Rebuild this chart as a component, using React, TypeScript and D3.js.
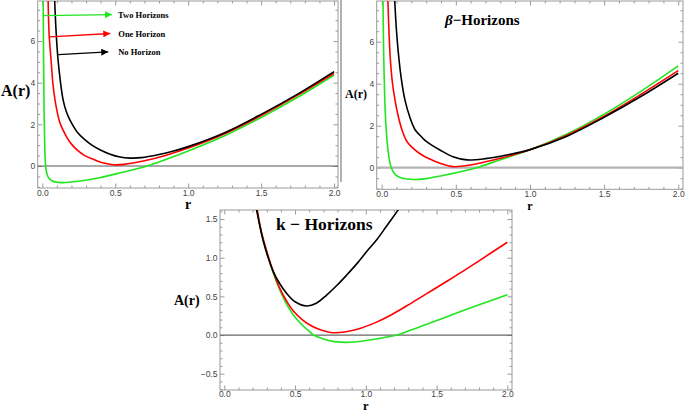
import { useEffect, useRef } from "react";
import {
  select,
  scaleLinear,
  line,
  curveCatmullRom,
  axisBottom,
  axisLeft,
  axisTop,
  axisRight,
  range,
  format,
} from "d3";

type Pt = [number, number];

// tick labels
const rTicks = [0, 0.5, 1, 1.5, 2];
const aTicksWide = [0, 2, 4, 6];
const aTicksK = [-0.5, 0, 0.5, 1, 1.5];

// colours of the three cases
const seriesColors = ["#1fe61f", "#ff0000", "#000000"];
const legendLabels = ["Two Horizons", "One Horizon", "No Horizon"];

// top left panel (r, A(r))
const p1Green: Pt[] = [
  [0.006, 7.92], [0.009, 5.0], [0.012, 2.8], [0.016, 1.2], [0.02, 0.3],
  [0.026, -0.18], [0.036, -0.47], [0.05, -0.63], [0.08, -0.75], [0.14, -0.8],
  [0.25, -0.73], [0.4, -0.55], [0.55, -0.3], [0.72, 0], [0.85, 0.32],
  [1.0, 0.72], [1.25, 1.45], [1.5, 2.33], [1.75, 3.3], [2.0, 4.37],
];
const p1Red: Pt[] = [
  [0.04, 7.92], [0.047, 6.3], [0.06, 5.1], [0.072, 4.0], [0.087, 3.17],
  [0.105, 2.5], [0.122, 2.05], [0.142, 1.73], [0.17, 1.35], [0.2, 1.05],
  [0.238, 0.77], [0.29, 0.5], [0.361, 0.29], [0.42, 0.14], [0.485, 0.06],
  [0.56, 0.08], [0.7, 0.25], [0.85, 0.52], [1.0, 0.86], [1.25, 1.55],
  [1.5, 2.42], [1.75, 3.4], [2.0, 4.45],
];
const p1Black: Pt[] = [
  [0.085, 7.92], [0.095, 6.4], [0.108, 5.1], [0.125, 4.0], [0.142, 3.2],
  [0.165, 2.6], [0.19, 2.2], [0.24, 1.62], [0.293, 1.25], [0.34, 1.0],
  [0.395, 0.78], [0.46, 0.58], [0.533, 0.43], [0.6, 0.38], [0.68, 0.4],
  [0.8, 0.55], [0.9, 0.72], [1.0, 0.93], [1.25, 1.6], [1.5, 2.48],
  [1.75, 3.45], [2.0, 4.53],
];

// β panel
const p2Green: Pt[] = [
  [0.009, 7.94], [0.012, 6.0], [0.016, 4.5], [0.021, 3.2], [0.028, 2.1],
  [0.036, 1.3], [0.045, 0.7], [0.055, 0.25], [0.065, 0], [0.08, -0.22],
  [0.1, -0.38], [0.14, -0.5], [0.21, -0.56], [0.3, -0.52], [0.45, -0.32],
  [0.64, 0], [0.8, 0.38], [1.0, 0.85], [1.25, 1.6], [1.5, 2.55],
  [1.75, 3.65], [2.0, 4.85],
];
const p2Red: Pt[] = [
  [0.042, 7.94], [0.05, 6.3], [0.06, 5.0], [0.074, 3.95], [0.09, 3.22],
  [0.11, 2.5], [0.137, 1.8], [0.17, 1.25], [0.224, 0.85], [0.28, 0.57],
  [0.339, 0.37], [0.41, 0.17], [0.48, 0.05], [0.6, 0.13], [0.8, 0.45],
  [1.0, 0.85], [1.25, 1.55], [1.5, 2.45], [1.75, 3.5], [2.0, 4.62],
];
const p2Black: Pt[] = [
  [0.088, 7.94], [0.1, 6.5], [0.117, 5.13], [0.135, 4.1], [0.157, 3.22],
  [0.19, 2.4], [0.224, 1.82], [0.26, 1.53], [0.292, 1.3], [0.34, 1.06],
  [0.393, 0.84], [0.48, 0.52], [0.575, 0.37], [0.7, 0.43], [0.843, 0.6],
  [1.0, 0.86], [1.25, 1.5], [1.5, 2.4], [1.75, 3.4], [2.0, 4.5],
];

// k panel
const p3Green: Pt[] = [
  [0.232, 1.62], [0.26, 1.35], [0.3, 1.08], [0.35, 0.78], [0.393, 0.58],
  [0.44, 0.4], [0.488, 0.26], [0.55, 0.13], [0.605, 0.04], [0.63, 0],
  [0.7, -0.05], [0.78, -0.085], [0.865, -0.095], [0.97, -0.08], [1.077, -0.05],
  [1.15, -0.025], [1.218, 0], [1.32, 0.065], [1.43, 0.14], [1.55, 0.22],
  [1.665, 0.3], [1.8, 0.39], [2.0, 0.52],
];
const p3Red: Pt[] = [
  [0.232, 1.62], [0.26, 1.35], [0.3, 1.08], [0.35, 0.8], [0.393, 0.6],
  [0.44, 0.44], [0.488, 0.31], [0.55, 0.2], [0.605, 0.13], [0.66, 0.08],
  [0.723, 0.045], [0.77, 0.03], [0.85, 0.04], [0.959, 0.085], [1.08, 0.17],
  [1.194, 0.275], [1.31, 0.4], [1.43, 0.535], [1.55, 0.67], [1.665, 0.8],
  [1.8, 0.96], [2.0, 1.2],
];
const p3Black: Pt[] = [
  [0.228, 1.62], [0.25, 1.42], [0.276, 1.21], [0.31, 1.0], [0.346, 0.82],
  [0.39, 0.67], [0.44, 0.54], [0.5, 0.43], [0.582, 0.375], [0.65, 0.41],
  [0.723, 0.517], [0.8, 0.65], [0.865, 0.776], [0.94, 0.93], [1.006, 1.08],
  [1.08, 1.24], [1.147, 1.41], [1.21, 1.57], [1.28, 1.75],
];

// arrows of the legend, from a point on the curve to the tip (r, A)
const legendArrows: [Pt, Pt][] = [
  [[0.007, 7.22], [0.478, 7.27]],
  [[0.052, 6.2], [0.466, 6.36]],
  [[0.11, 5.35], [0.452, 5.48]],
];

const FRAME = "#9a9a9a";
const SERIF = "'Liberation Serif', 'Times New Roman', serif";
const SANS = "'Liberation Sans', Arial, sans-serif";

const panels = [
  {
    id: "p1",
    left: 37.7, right: 338, top: 1, bottom: 188,
    xDom: [-0.0315, 2.027], yDom: [-1.056, 7.92],
    yTicks: aTicksWide, yStep: 0.5, yFmt: format("d"), pad: 1.5,
    series: [p1Green, p1Red, p1Black],
    zero: { color: "#555", width: 1 },
  },
  {
    id: "p2",
    left: 376.7, right: 683, top: 1, bottom: 189.3,
    xDom: [-0.0337, 2.032], yDom: [-1.03, 7.94],
    yTicks: aTicksWide, yStep: 0.5, yFmt: format("d"), pad: 1.5,
    series: [p2Green, p2Red, p2Black],
    zero: { color: "#b3b3b3", width: 2.2 },
  },
  {
    id: "p3",
    left: 220, right: 512, top: 210, bottom: 390,
    xDom: [-0.0304, 2.033], yDom: [-0.711, 1.617],
    yTicks: aTicksK, yStep: 0.1, yFmt: format(".1f"), pad: 1,
    series: [p3Green, p3Red, p3Black],
    zero: { color: "#666", width: 1.2 },
  },
];

const isMajor = (v: number, step: number) =>
  Math.abs(v / step - Math.round(v / step)) < 1e-6;

const styleAxis = (g: any) => {
  g.attr("font-family", SANS).attr("font-size", 8.5);
  g.select(".domain").remove();
  g.selectAll("line").attr("stroke", FRAME);
  g.selectAll("text").attr("fill", "#444");
};

const drawPanel = (svg: any, p: any) => {
  const x = scaleLinear(p.xDom, [p.left, p.right]);
  const y = scaleLinear(p.yDom, [p.bottom, p.top]);
  const g = svg.append("g");

  g.append("clipPath")
    .attr("id", "clip-" + p.id)
    .append("rect")
    .attr("x", p.left)
    .attr("y", p.top)
    .attr("width", p.right - p.left)
    .attr("height", p.bottom - p.top);

  const xMinor = range(0, 2.001, 0.1).filter((v) => !isMajor(v, 0.5));
  const yMajorStep = p.yTicks[1] - p.yTicks[0];
  const yMinor = range(Math.ceil(p.yDom[0] / p.yStep) * p.yStep, p.yDom[1], p.yStep)
    .filter((v) => !isMajor(v, yMajorStep));

  // bottom / left with labels, ticks pointing inside
  g.append("g")
    .attr("transform", `translate(0,${p.bottom})`)
    .call(axisBottom(x).tickValues(rTicks).tickSize(-4.5).tickPadding(p.pad).tickFormat(format(".1f")))
    .call(styleAxis);
  g.append("g")
    .attr("transform", `translate(0,${p.bottom})`)
    .call(axisBottom(x).tickValues(xMinor).tickSize(-2.5).tickFormat(() => ""))
    .call(styleAxis);
  g.append("g")
    .attr("transform", `translate(${p.left},0)`)
    .call(axisLeft(y).tickValues(p.yTicks).tickSize(-4.5).tickPadding(2.5).tickFormat(p.yFmt))
    .call(styleAxis);
  g.append("g")
    .attr("transform", `translate(${p.left},0)`)
    .call(axisLeft(y).tickValues(yMinor).tickSize(-2.5).tickFormat(() => ""))
    .call(styleAxis);
  // top / right without labels
  g.append("g")
    .attr("transform", `translate(0,${p.top})`)
    .call(axisTop(x).tickValues(rTicks).tickSize(-4.5).tickFormat(() => ""))
    .call(styleAxis);
  g.append("g")
    .attr("transform", `translate(0,${p.top})`)
    .call(axisTop(x).tickValues(xMinor).tickSize(-2.5).tickFormat(() => ""))
    .call(styleAxis);
  g.append("g")
    .attr("transform", `translate(${p.right},0)`)
    .call(axisRight(y).tickValues(p.yTicks).tickSize(-4.5).tickFormat(() => ""))
    .call(styleAxis);
  g.append("g")
    .attr("transform", `translate(${p.right},0)`)
    .call(axisRight(y).tickValues(yMinor).tickSize(-2.5).tickFormat(() => ""))
    .call(styleAxis);

  g.append("rect")
    .attr("x", p.left)
    .attr("y", p.top)
    .attr("width", p.right - p.left)
    .attr("height", p.bottom - p.top)
    .attr("fill", "none")
    .attr("stroke", FRAME)
    .attr("stroke-width", 1);

  g.append("line")
    .attr("x1", p.left)
    .attr("x2", p.right)
    .attr("y1", y(0))
    .attr("y2", y(0))
    .attr("stroke", p.zero.color)
    .attr("stroke-width", p.zero.width);

  // centripetal catmull-rom keeps the steep branches smooth
  const path = line<Pt>()
    .x((d) => x(d[0]))
    .y((d) => y(d[1]))
    .curve(curveCatmullRom.alpha(0.5));

  const curves = g.append("g").attr("clip-path", `url(#clip-${p.id})`);
  p.series.forEach((s: Pt[], i: number) => {
    curves
      .append("path")
      .attr("d", path(s))
      .attr("fill", "none")
      .attr("stroke", seriesColors[i])
      .attr("stroke-width", 1.6)
      .attr("stroke-linejoin", "round");
  });

  return { x, y };
};

const App = () => {
  const ref = useRef<SVGSVGElement>(null);

  useEffect(() => {
    const svg = select(ref.current);
    svg.selectAll("*").remove();

    // separator at the left of the β panel
    svg
      .append("line")
      .attr("x1", 341)
      .attr("x2", 341)
      .attr("y1", 0)
      .attr("y2", 182)
      .attr("stroke", "#999")
      .attr("stroke-width", 1.5);

    const scales = panels.map((p) => drawPanel(svg, p));

    // legend arrows of the first panel
    const { x, y } = scales[0];
    const defs = svg.append("defs");
    seriesColors.forEach((c, i) => {
      defs
        .append("marker")
        .attr("id", "head" + i)
        .attr("viewBox", "0 0 10 10")
        .attr("refX", 10)
        .attr("refY", 5)
        .attr("markerUnits", "userSpaceOnUse")
        .attr("markerWidth", 11)
        .attr("markerHeight", 7)
        .attr("orient", "auto")
        .append("path")
        .attr("d", "M0,0L10,5L0,10Z")
        .attr("fill", c);
    });
    legendArrows.forEach(([a, b], i) => {
      svg
        .append("line")
        .attr("x1", x(a[0]))
        .attr("y1", y(a[1]))
        .attr("x2", x(b[0]))
        .attr("y2", y(b[1]))
        .attr("stroke", seriesColors[i])
        .attr("stroke-width", 1.3)
        .attr("marker-end", `url(#head${i})`);
      svg
        .append("text")
        .attr("x", x(b[0]) + 6 + i * 2)
        .attr("y", y(b[1]) + 3.5)
        .attr("font-family", SERIF)
        .attr("font-weight", "bold")
        .attr("font-size", 8.5)
        .text(legendLabels[i]);
    });

    const label = (t: string, px: number, py: number, size: number, anchor = "start") =>
      svg
        .append("text")
        .attr("x", px)
        .attr("y", py)
        .attr("font-family", SERIF)
        .attr("font-weight", "bold")
        .attr("font-size", size)
        .attr("text-anchor", anchor)
        .text(t);

    // axis titles
    label("A(r)", 1, 96, 16);
    label("r", scales[0].x(1), 209, 14, "middle");
    label("A(r)", 345, 98, 12);
    label("r", scales[1].x(1), 210, 12, "middle");
    label("A(r)", 174, 305, 14);
    label("r", scales[2].x(1), 409.5, 12.5, "middle");

    // panel titles
    const beta = svg
      .append("text")
      .attr("x", 445)
      .attr("y", 25)
      .attr("font-family", SERIF)
      .attr("font-weight", "bold")
      .attr("font-size", 15);
    beta.append("tspan").attr("font-style", "italic").text("β");
    beta.append("tspan").text("−Horizons");
    label("k − Horizons", 276, 229.5, 17.5);
  }, []);

  return (
    <svg
      ref={ref}
      width={685}
      height={411}
      style={{ position: "absolute", left: 0, top: 0, background: "#fff" }}
    />
  );
};

export default App;
